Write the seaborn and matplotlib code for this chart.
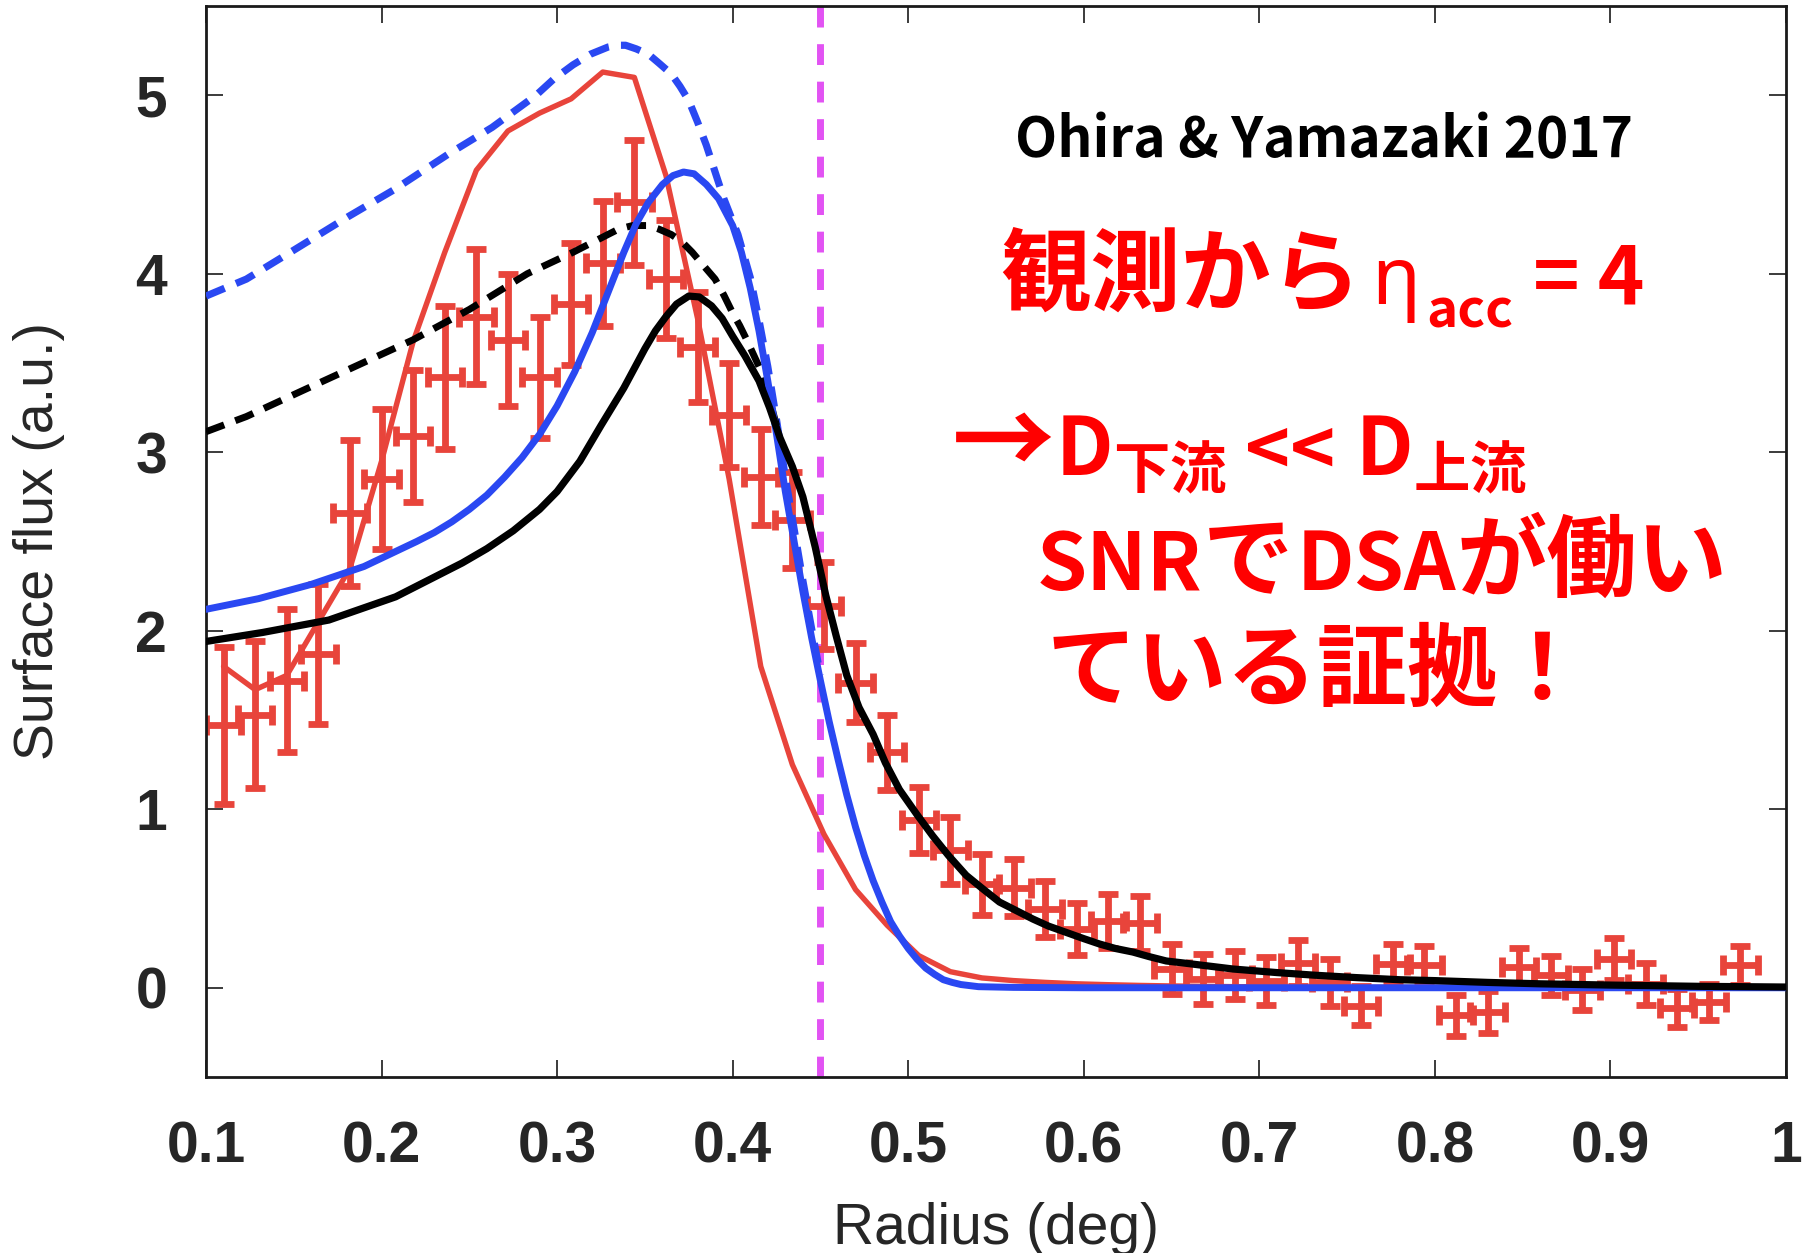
import matplotlib
matplotlib.use("Agg")
import matplotlib.pyplot as plt
import seaborn as sns

# ---- observed radial profile: bin centre (deg), surface flux, 1-sigma error ----
radius = [0.110, 0.128, 0.146, 0.164, 0.182, 0.200, 0.218, 0.236, 0.254, 0.272,
          0.290, 0.308, 0.326, 0.344, 0.362, 0.380, 0.398, 0.416, 0.434, 0.452,
          0.470, 0.488, 0.506, 0.524, 0.542, 0.560, 0.578, 0.596, 0.614, 0.632,
          0.650, 0.668, 0.686, 0.704, 0.722, 0.740, 0.758, 0.776, 0.794, 0.812,
          0.830, 0.848, 0.866, 0.884, 0.902, 0.920, 0.938, 0.956, 0.974]
flux = [1.47, 1.53, 1.72, 1.87, 2.66, 2.85, 3.09, 3.42, 3.76, 3.63,
        3.42, 3.83, 4.06, 4.40, 3.97, 3.59, 3.21, 2.86, 2.62, 2.14,
        1.71, 1.32, 0.94, 0.77, 0.58, 0.56, 0.44, 0.33, 0.375, 0.36,
        0.106, 0.05, 0.07, 0.04, 0.14, 0.03, -0.10, 0.134, 0.125, -0.155,
        -0.136, 0.115, 0.07, -0.01, 0.16, 0.02, -0.115, -0.08, 0.125]
flux_err = [0.44, 0.41, 0.40, 0.39, 0.41, 0.39, 0.37, 0.40, 0.38, 0.37,
            0.34, 0.34, 0.35, 0.35, 0.33, 0.31, 0.29, 0.27, 0.27, 0.245,
            0.22, 0.21, 0.185, 0.186, 0.17, 0.16, 0.156, 0.146, 0.153, 0.153,
            0.14, 0.14, 0.135, 0.135, 0.13, 0.13, 0.11, 0.11, 0.11, 0.116,
            0.117, 0.11, 0.11, 0.116, 0.116, 0.116, 0.107, 0.10, 0.11]
radius_err = 0.0098

# ---- model profile binned like the data ----
model_binned = [1.80, 1.67, 1.75, 2.05, 2.35, 2.95, 3.62, 4.12, 4.58, 4.80,
                4.90, 4.98, 5.13, 5.10, 4.55, 3.75, 2.85, 1.80, 1.25, 0.86,
                0.55, 0.35, 0.18, 0.09, 0.055, 0.04, 0.03, 0.022, 0.017, 0.013,
                0.010, 0.008, 0.006, 0.005, 0.004, 0.003, 0.003, 0.002, 0.002, 0.002,
                0.001, 0.001, 0.001, 0.001, 0.001, 0.001, 0.0, 0.0, 0.0]

# ---- blue model (solid) ----
blue_r = [0.100, 0.130, 0.160, 0.190, 0.220, 0.230, 0.240, 0.250, 0.260, 0.270,
          0.280, 0.290, 0.300, 0.310, 0.320, 0.330, 0.338, 0.345, 0.352, 0.360,
          0.366, 0.372, 0.378, 0.385, 0.392, 0.400, 0.405, 0.410, 0.415, 0.420,
          0.425, 0.430, 0.435, 0.440, 0.445, 0.450, 0.455, 0.460, 0.465, 0.470,
          0.475, 0.480, 0.485, 0.490, 0.495, 0.500, 0.505, 0.510, 0.515, 0.520,
          0.525, 0.530, 0.540, 0.560, 0.600, 0.700, 0.800, 0.900, 1.000]
blue_f = [2.12, 2.18, 2.26, 2.36, 2.50, 2.55, 2.61, 2.68, 2.76, 2.86,
          2.97, 3.10, 3.26, 3.45, 3.67, 3.92, 4.12, 4.28, 4.40, 4.50,
          4.55, 4.57, 4.56, 4.50, 4.42, 4.27, 4.12, 3.92, 3.68, 3.40,
          3.10, 2.78, 2.50, 2.22, 1.96, 1.72, 1.49, 1.28, 1.08, 0.90,
          0.74, 0.60, 0.48, 0.37, 0.29, 0.22, 0.16, 0.11, 0.075, 0.045,
          0.03, 0.018, 0.006, 0.002, 0.0, 0.0, 0.0, 0.0, 0.0]

# ---- blue model (dashed) ----
blue_dash_r = [0.100, 0.123, 0.148, 0.181, 0.207, 0.238, 0.263, 0.288, 0.298, 0.309,
               0.319, 0.329, 0.334, 0.339, 0.345, 0.352, 0.358, 0.365, 0.370, 0.375,
               0.380, 0.385, 0.390, 0.395, 0.399, 0.403, 0.410, 0.415, 0.420, 0.425,
               0.430, 0.435, 0.440, 0.445, 0.450]
blue_dash_f = [3.875, 3.97, 4.12, 4.32, 4.47, 4.67, 4.82, 5.00, 5.09, 5.17,
               5.23, 5.27, 5.28, 5.28, 5.26, 5.23, 5.18, 5.12, 5.05, 4.97,
               4.85, 4.72, 4.57, 4.42, 4.32, 4.22, 3.98, 3.74, 3.48, 3.18,
               2.86, 2.57, 2.28, 2.01, 1.75]

# ---- black model (solid) ----
black_r = [0.100, 0.132, 0.170, 0.208, 0.220, 0.246, 0.260, 0.275, 0.290, 0.300,
           0.313, 0.325, 0.338, 0.350, 0.356, 0.362, 0.368, 0.375, 0.381, 0.388,
           0.394, 0.400, 0.407, 0.415, 0.421, 0.427, 0.434, 0.440, 0.447, 0.453,
           0.459, 0.465, 0.472, 0.480, 0.487, 0.495, 0.505, 0.514, 0.523, 0.533,
           0.543, 0.552, 0.562, 0.571, 0.580, 0.590, 0.600, 0.609, 0.618, 0.628,
           0.637, 0.647, 0.660, 0.685, 0.710, 0.732, 0.755, 0.780, 0.800, 0.830,
           0.860, 0.900, 0.950, 1.000]
black_f = [1.94, 1.99, 2.06, 2.19, 2.25, 2.38, 2.46, 2.56, 2.68, 2.78,
           2.95, 3.15, 3.36, 3.58, 3.68, 3.76, 3.83, 3.875, 3.87, 3.82,
           3.75, 3.65, 3.54, 3.40, 3.25, 3.08, 2.92, 2.75, 2.47, 2.20,
           1.97, 1.75, 1.57, 1.42, 1.26, 1.11, 0.97, 0.85, 0.74, 0.63,
           0.55, 0.48, 0.43, 0.385, 0.345, 0.31, 0.275, 0.245, 0.22, 0.20,
           0.175, 0.15, 0.135, 0.105, 0.085, 0.07, 0.057, 0.045, 0.04, 0.03,
           0.022, 0.015, 0.008, 0.004]

# ---- black model (dashed) ----
black_dash_r = [0.100, 0.123, 0.156, 0.187, 0.218, 0.250, 0.283, 0.309, 0.335, 0.343,
                0.352, 0.358, 0.365, 0.371, 0.377, 0.383, 0.390, 0.395, 0.400, 0.404,
                0.408, 0.415, 0.420, 0.425]
black_dash_f = [3.115, 3.20, 3.35, 3.49, 3.63, 3.80, 4.00, 4.12, 4.25, 4.27,
                4.27, 4.25, 4.22, 4.18, 4.12, 4.05, 3.97, 3.88, 3.78, 3.71,
                3.63, 3.48, 3.33, 3.15]

shock_radius = 0.45

x_ticks = [0.1, 0.2, 0.3, 0.4, 0.5, 0.6, 0.7, 0.8, 0.9, 1.0]
x_tick_labels = ["0.1", "0.2", "0.3", "0.4", "0.5", "0.6", "0.7", "0.8", "0.9", "1"]
y_ticks = [0, 1, 2, 3, 4, 5]

RED = "#E8443B"
BLUE = "#2A48F2"
MAGENTA = "#E253F3"
TXT_RED = "#FF0000"

sns.set_theme(style="ticks")
plt.rcParams["font.family"] = ["Liberation Sans", "DejaVu Sans"]
CJK = ["Noto Sans CJK JP", "DejaVu Sans"]
LATIN = ["Noto Sans", "DejaVu Sans"]

W, H = 1807, 1253
fig = plt.figure(figsize=(W / 100, H / 100), dpi=100)
ax = fig.add_axes([206 / W, 1 - 1077 / H, 1580 / W, 1071 / H])

# shock position
ax.axvline(shock_radius, color=MAGENTA, lw=5.0, dashes=(3.0, 2.4), zorder=1)

# data with x and y error bars
ax.errorbar(radius, flux, yerr=flux_err, xerr=radius_err, fmt="none",
            ecolor=RED, elinewidth=4.9, capsize=7.0, capthick=4.9, zorder=2)

# model curves
sns.lineplot(x=radius, y=model_binned, ax=ax, color=RED, lw=3.9,
             estimator=None, sort=False, zorder=2.5)
sns.lineplot(x=blue_dash_r, y=blue_dash_f, ax=ax, color=BLUE, lw=5.2,
             estimator=None, sort=False, zorder=3)
ax.lines[-1].set_dashes((2.8, 1.7))
sns.lineplot(x=black_dash_r, y=black_dash_f, ax=ax, color="black", lw=5.0,
             estimator=None, sort=False, zorder=3.5)
ax.lines[-1].set_dashes((2.8, 1.7))
sns.lineplot(x=blue_r, y=blue_f, ax=ax, color=BLUE, lw=5.0,
             estimator=None, sort=False, zorder=4)
sns.lineplot(x=black_r, y=black_f, ax=ax, color="black", lw=5.2,
             estimator=None, sort=False, zorder=5)
for ln in ax.lines:
    ln.set_solid_joinstyle("round")
    ln.set_solid_capstyle("round")

ax.set_xlim(0.1, 1.0)
ax.set_ylim(-0.5, 5.5)
ax.set_xticks(x_ticks)
ax.set_xticklabels(x_tick_labels)
ax.set_yticks(y_ticks)
ax.set_yticklabels([str(v) for v in y_ticks])

for s in ax.spines.values():
    s.set_linewidth(2.0)
    s.set_color("#1a1a1a")
ax.tick_params(axis="both", direction="in", length=12, width=1.2,
               top=True, right=True, color="#1a1a1a")
ax.tick_params(axis="x", pad=31)
ax.tick_params(axis="y", pad=28)
for lab in ax.get_xticklabels():
    lab.set_fontsize(41)
    lab.set_fontweight("bold")
for lab in ax.get_yticklabels():
    lab.set_fontsize(41)
    lab.set_fontweight("bold")

ax.set_xlabel("Radius (deg)", fontsize=41)
ax.xaxis.set_label_coords(0.5, -0.117)
ax.set_ylabel("Surface flux (a.u.)", fontsize=40, va="center")
ax.yaxis.set_label_coords(-0.106, 0.5)


def text_run(pieces, left_px, base_px, color):
    """Lay out text pieces left to right on one baseline (pixel coords from top)."""
    prev = None
    for s, size, gap, drop, fam in pieces:
        y_fig_px = H - base_px - drop
        if prev is None:
            t = fig.text(left_px / W, y_fig_px / H, s, fontsize=size,
                         fontweight="bold", family=fam, color=color,
                         ha="left", va="baseline")
        else:
            t = ax.annotate(s, xy=(1, y_fig_px), xycoords=(prev, "figure pixels"),
                            xytext=(gap, 0), textcoords="offset pixels",
                            fontsize=size, fontweight="bold", family=fam,
                            color=color, ha="left", va="baseline",
                            annotation_clip=False)
        prev = t


text_run([("Ohira & Yamazaki 2017", 39.5, 0, 0, CJK)], 1015, 157, "black")
text_run([("観測から", 65, 0, 0, CJK), ("η", 58, 10, 0, LATIN),
          ("acc", 38, 6, 23, CJK), ("= 4", 57, 20, 0, CJK)],
         1000, 304, TXT_RED)
text_run([("→", 74, 0, 0, CJK),
          (r"D$_\mathregular{下流}$", 58, 0, 0, CJK),
          ("<<", 55, 18, 0, CJK),
          (r"D$_\mathregular{上流}$", 58, 20, 0, CJK)],
         952, 476, TXT_RED)
text_run([("SNR", 58, 0, 0, CJK), ("で", 65, 0, 0, CJK), ("DSA", 58, 4, 0, CJK),
          ("が働い", 65, 0, 0, CJK)], 1037, 590, TXT_RED)
text_run([("ている証拠！", 65, 0, 0, CJK)], 1047, 699, TXT_RED)

fig.savefig("out.png", dpi=100)
